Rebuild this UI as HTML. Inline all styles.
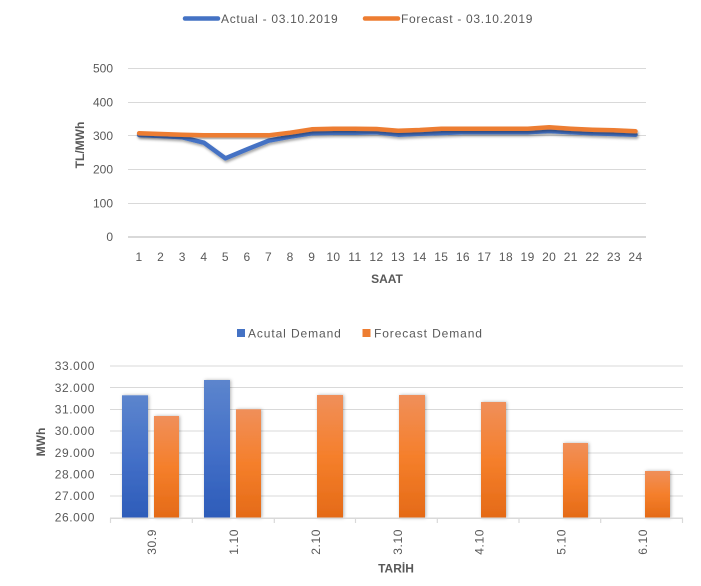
<!DOCTYPE html>
<html>
<head>
<meta charset="utf-8">
<style>
  html,body{margin:0;padding:0;background:#fff;}
  body{width:701px;height:586px;overflow:hidden;}
  svg{display:block;}
  text{font-family:"Liberation Sans",Arial,sans-serif;fill:#595959;}
</style>
</head>
<body>
<svg width="701" height="586" viewBox="0 0 701 586" xmlns="http://www.w3.org/2000/svg">
  <defs>
    <filter id="lsh" x="-5%" y="-50%" width="110%" height="200%">
      <feDropShadow dx="1" dy="2" stdDeviation="1.2" flood-color="#000" flood-opacity="0.35"/>
    </filter>
    <filter id="bsh" x="-30%" y="-10%" width="160%" height="120%">
      <feDropShadow dx="1" dy="0" stdDeviation="1.5" flood-color="#000" flood-opacity="0.3"/>
    </filter>
    <linearGradient id="gb" x1="0" y1="0" x2="0" y2="1">
      <stop offset="0" stop-color="#5C85CD"/>
      <stop offset="0.5" stop-color="#4470C8"/>
      <stop offset="1" stop-color="#2D5CB9"/>
    </linearGradient>
    <linearGradient id="go" x1="0" y1="0" x2="0" y2="1">
      <stop offset="0" stop-color="#F08F5A"/>
      <stop offset="0.5" stop-color="#F57F2B"/>
      <stop offset="1" stop-color="#E46A17"/>
    </linearGradient>
  </defs>

  <!-- ===== TOP CHART ===== -->
  <!-- legend -->
  <line x1="185" y1="18.5" x2="218" y2="18.5" stroke="#4472C4" stroke-width="4.5" stroke-linecap="round"/>
  <text x="221" y="23" font-size="12" letter-spacing="0.7">Actual - 03.10.2019</text>
  <line x1="365" y1="18.5" x2="398" y2="18.5" stroke="#ED7D31" stroke-width="4.5" stroke-linecap="round"/>
  <text x="401" y="23" font-size="12" letter-spacing="0.7">Forecast - 03.10.2019</text>

  <!-- gridlines -->
  <g stroke="#d9d9d9" stroke-width="1">
    <line x1="128" y1="68.5" x2="646" y2="68.5"/>
    <line x1="128" y1="102.5" x2="646" y2="102.5"/>
    <line x1="128" y1="135.5" x2="646" y2="135.5"/>
    <line x1="128" y1="169.5" x2="646" y2="169.5"/>
    <line x1="128" y1="203.5" x2="646" y2="203.5"/>
  </g>
  <line x1="128" y1="237" x2="646" y2="237" stroke="#d9d9d9" stroke-width="2"/>

  <!-- y labels -->
  <g font-size="12" text-anchor="end">
    <text x="113" y="72.5">500</text>
    <text x="113" y="106.5">400</text>
    <text x="113" y="140">300</text>
    <text x="113" y="173.5">200</text>
    <text x="113" y="207.5">100</text>
    <text x="113" y="241">0</text>
  </g>
  <text transform="translate(84,145) rotate(-90)" font-size="12" font-weight="bold" text-anchor="middle">TL/MWh</text>

  <!-- x labels -->
  <g font-size="12" text-anchor="middle" letter-spacing="0.4">
    <text x="139.1" y="261">1</text>
    <text x="160.7" y="261">2</text>
    <text x="182.3" y="261">3</text>
    <text x="203.9" y="261">4</text>
    <text x="225.4" y="261">5</text>
    <text x="247.0" y="261">6</text>
    <text x="268.6" y="261">7</text>
    <text x="290.2" y="261">8</text>
    <text x="311.8" y="261">9</text>
    <text x="333.4" y="261">10</text>
    <text x="354.9" y="261">11</text>
    <text x="376.5" y="261">12</text>
    <text x="398.1" y="261">13</text>
    <text x="419.7" y="261">14</text>
    <text x="441.3" y="261">15</text>
    <text x="462.9" y="261">16</text>
    <text x="484.4" y="261">17</text>
    <text x="506.0" y="261">18</text>
    <text x="527.6" y="261">19</text>
    <text x="549.2" y="261">20</text>
    <text x="570.8" y="261">21</text>
    <text x="592.4" y="261">22</text>
    <text x="613.9" y="261">23</text>
    <text x="635.5" y="261">24</text>
  </g>
  <text x="387" y="283" font-size="12" font-weight="bold" text-anchor="middle">SAAT</text>

  <!-- series -->
  <polyline filter="url(#lsh)" fill="none" stroke="#4472C4" stroke-width="4.5" stroke-linejoin="round" stroke-linecap="round"
    points="139.1,135 160.7,136 182.3,137.3 203.9,142.7 225.4,158.3 247.0,149.3 268.6,140.7 290.2,136.7 311.8,133.3 333.4,132.7 354.9,132.7 376.5,132.3 398.1,134.7 419.7,133.7 441.3,133 462.9,132.3 484.4,132.3 506.0,132.3 527.6,132.3 549.2,131 570.8,132.3 592.4,133.3 613.9,134 635.5,134.7"/>
  <polyline filter="url(#lsh)" fill="none" stroke="#ED7D31" stroke-width="4.5" stroke-linejoin="round" stroke-linecap="round"
    points="139.1,133.3 160.7,134 182.3,134.7 203.9,135.3 225.4,135.3 247.0,135.3 268.6,135.3 290.2,132.7 311.8,129.3 333.4,128.7 354.9,128.7 376.5,129 398.1,130.7 419.7,130 441.3,128.7 462.9,128.7 484.4,128.7 506.0,128.7 527.6,128.7 549.2,127.3 570.8,128.7 592.4,129.7 613.9,130.3 635.5,131.3"/>

  <!-- ===== BOTTOM CHART ===== -->
  <!-- legend -->
  <rect x="237" y="329" width="8" height="8" fill="#4472C4"/>
  <text x="248" y="337.5" font-size="12" letter-spacing="0.9">Acutal Demand</text>
  <rect x="362.5" y="329" width="8" height="8" fill="#ED7D31"/>
  <text x="374" y="337.5" font-size="12" letter-spacing="0.9">Forecast Demand</text>

  <!-- gridlines -->
  <g stroke="#d9d9d9" stroke-width="1">
    <line x1="110" y1="366" x2="683" y2="366"/>
    <line x1="110" y1="387.5" x2="683" y2="387.5"/>
    <line x1="110" y1="409.5" x2="683" y2="409.5"/>
    <line x1="110" y1="431" x2="683" y2="431"/>
    <line x1="110" y1="453" x2="683" y2="453"/>
    <line x1="110" y1="474.5" x2="683" y2="474.5"/>
    <line x1="110" y1="496" x2="683" y2="496"/>
  </g>

  <!-- y labels -->
  <g font-size="12" text-anchor="end" letter-spacing="0.6">
    <text x="95" y="370">33.000</text>
    <text x="95" y="392">32.000</text>
    <text x="95" y="413.5">31.000</text>
    <text x="95" y="435">30.000</text>
    <text x="95" y="457">29.000</text>
    <text x="95" y="478.5">28.000</text>
    <text x="95" y="500">27.000</text>
    <text x="95" y="521.5">26.000</text>
  </g>
  <text transform="translate(45,442) rotate(-90)" font-size="12" font-weight="bold" text-anchor="middle">MWh</text>

  <!-- bars -->
  <g filter="url(#bsh)">
    <rect x="122" y="395.3" width="26" height="122.7" fill="url(#gb)"/>
    <rect x="154" y="416" width="25" height="102" fill="url(#go)"/>
    <rect x="204" y="380" width="26" height="138" fill="url(#gb)"/>
    <rect x="236" y="409.3" width="25" height="108.7" fill="url(#go)"/>
    <rect x="317" y="395" width="26" height="123" fill="url(#go)"/>
    <rect x="399" y="395" width="26" height="123" fill="url(#go)"/>
    <rect x="481" y="402" width="25" height="116" fill="url(#go)"/>
    <rect x="563" y="443" width="25" height="75" fill="url(#go)"/>
    <rect x="645" y="471" width="25" height="47" fill="url(#go)"/>
  </g>

  <!-- axis -->
  <line x1="110" y1="518.3" x2="683" y2="518.3" stroke="#d9d9d9" stroke-width="1.5"/>
  <g stroke="#d9d9d9" stroke-width="1.2">
    <line x1="110.5" y1="518" x2="110.5" y2="523"/>
    <line x1="192.3" y1="518" x2="192.3" y2="523"/>
    <line x1="274.3" y1="518" x2="274.3" y2="523"/>
    <line x1="355.5" y1="518" x2="355.5" y2="523"/>
    <line x1="437.3" y1="518" x2="437.3" y2="523"/>
    <line x1="519" y1="518" x2="519" y2="523"/>
    <line x1="600.7" y1="518" x2="600.7" y2="523"/>
    <line x1="682.5" y1="518" x2="682.5" y2="523"/>
  </g>

  <!-- x labels (rotated) -->
  <g font-size="12" text-anchor="end" letter-spacing="0.6">
    <text transform="translate(156,529) rotate(-90)">30.9</text>
    <text transform="translate(238,529) rotate(-90)">1.10</text>
    <text transform="translate(320,529) rotate(-90)">2.10</text>
    <text transform="translate(402,529) rotate(-90)">3.10</text>
    <text transform="translate(483.5,529) rotate(-90)">4.10</text>
    <text transform="translate(565.5,529) rotate(-90)">5.10</text>
    <text transform="translate(647,529) rotate(-90)">6.10</text>
  </g>
  <text x="396" y="572.5" font-size="12" font-weight="bold" text-anchor="middle">TARİH</text>
</svg>
</body>
</html>
